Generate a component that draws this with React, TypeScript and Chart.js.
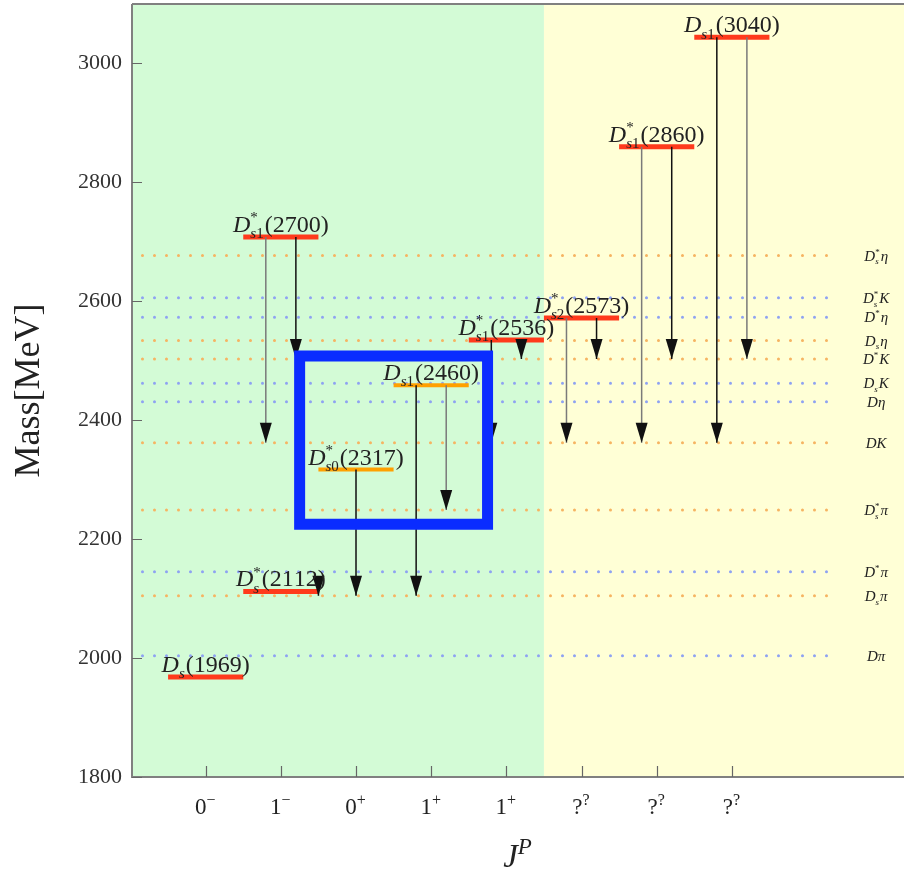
import React, { useEffect, useRef } from 'react';
import { Chart, registerables } from 'chart.js';

Chart.register(...registerables);

// ---------- data ----------
const categoryX = [1, 2, 3, 4, 5, 6, 7, 8];
const jpLabels = ['0^{−}', '1^{−}', '0^{+}', '1^{+}', '1^{+}', '?^{?}', '?^{?}', '?^{?}'];
const yTicks = [1800, 2000, 2200, 2400, 2600, 2800, 3000];

const levelNames = [
  'D_{s}(1969)', 'D_{s}^{*}(2112)', 'D_{s0}^{*}(2317)', 'D_{s1}(2460)', 'D_{s1}^{*}(2536)',
  'D_{s2}^{*}(2573)', 'D_{s1}^{*}(2700)', 'D_{s1}^{*}(2860)', 'D_{s1}(3040)',
];
const levelSlot = [1, 2, 3, 4, 5, 6, 2, 7, 8];
const levelMass = [1968, 2112, 2317, 2459, 2535, 2572, 2708, 2860, 3044];
const levelHighlighted = [false, false, true, true, false, false, false, false, false];

const thresholdNames = [
  'D_{s}^{*}η', 'D_{s}^{*}K', 'D^{*}η', 'D_{s}η', 'D^{*}K', 'D_{s}K',
  'Dη', 'DK', 'D_{s}^{*}π', 'D^{*}π', 'D_{s}π', 'Dπ',
];
const thresholdMass = [2677, 2606, 2573, 2534, 2503, 2462, 2431, 2362, 2249, 2145, 2105, 2004];
const thresholdGroup = [0, 1, 1, 0, 0, 1, 1, 0, 0, 1, 0, 1];

const arrowX = [1.8, 2.2, 2.5, 3.0, 3.8, 4.2, 4.8, 5.2, 5.8, 6.2, 6.8, 7.2, 7.8, 8.2];
const arrowFrom = [2708, 2708, 2112, 2317, 2459, 2459, 2535, 2535, 2572, 2572, 2860, 2860, 3044, 3044];
const arrowTo = [2362, 2503, 2105, 2105, 2105, 2249, 2362, 2503, 2362, 2503, 2362, 2503, 2362, 2503];
const arrowWeak = [true, false, false, false, false, true, false, false, true, false, true, false, false, true];

const boxX = [2.25, 4.75];
const boxMass = [2225, 2508];

const regionSplit = 5.5;
const thresholdStart = 0;
const thresholdEnd = 9.4;
const thresholdLabelX = 9.92;

// ---------- styles ----------
const SERIF = '"Liberation Serif", "Times New Roman", serif';
const GREEN = '#d3fbd6';
const YELLOW = '#ffffd6';
const RED = '#ff3a1c';
const ORANGE = '#ffa000';
const DOT_COLORS = ['#f6b462', '#8ea2f2'];
const FRAME = '#808080';
const TEXT = '#222222';

type Run = { text: string; kind: 'base' | 'sub' | 'sup' };

function parseRich(s: string): Run[] {
  const runs: Run[] = [];
  let i = 0;
  while (i < s.length) {
    const c = s[i];
    if ((c === '_' || c === '^') && s[i + 1] === '{') {
      const end = s.indexOf('}', i);
      runs.push({ text: s.slice(i + 2, end), kind: c === '_' ? 'sub' : 'sup' });
      i = end + 1;
    } else {
      runs.push({ text: c, kind: 'base' });
      i++;
    }
  }
  return runs;
}

const isItalic = (ch: string) => /[A-Za-zα-ωΑ-Ω]/.test(ch);

function drawRich(
  ctx: CanvasRenderingContext2D, s: string, x: number, y: number, size: number,
  align: 'center' | 'left', scriptRatio = 0.62,
) {
  const runs = parseRich(s);
  const small = Math.round(size * scriptRatio);
  const items: { text: string; font: string; x: number; y: number }[] = [];
  let cx = 0;
  let i = 0;
  while (i < runs.length) {
    const r = runs[i];
    if (r.kind === 'base') {
      const font = `${isItalic(r.text) ? 'italic ' : ''}${size}px ${SERIF}`;
      ctx.font = font;
      const w = ctx.measureText(r.text).width;
      items.push({ text: r.text, font, x: cx, y: 0 });
      cx += w;
      i++;
    } else {
      let maxW = 0;
      while (i < runs.length && runs[i].kind !== 'base') {
        const rr = runs[i];
        let sx = cx;
        for (const ch of rr.text) {
          const font = `${isItalic(ch) ? 'italic ' : ''}${small}px ${SERIF}`;
          ctx.font = font;
          const w = ctx.measureText(ch).width;
          items.push({ text: ch, font, x: sx, y: rr.kind === 'sub' ? size * 0.26 : -size * 0.4 });
          sx += w;
        }
        maxW = Math.max(maxW, sx - cx);
        i++;
      }
      cx += maxW + 1;
    }
  }
  const x0 = align === 'center' ? x - cx / 2 : x;
  ctx.textAlign = 'left';
  ctx.textBaseline = 'alphabetic';
  for (const it of items) {
    ctx.font = it.font;
    ctx.fillText(it.text, x0 + it.x, y + it.y);
  }
}

const decorPlugin = {
  id: 'decor',
  beforeDraw(chart: any) {
    const { ctx, chartArea: a, scales } = chart;
    const xb = scales.x.getPixelForValue(regionSplit);
    ctx.save();
    ctx.fillStyle = GREEN;
    ctx.fillRect(a.left, a.top, xb - a.left, a.bottom - a.top);
    ctx.fillStyle = YELLOW;
    ctx.fillRect(xb, a.top, a.right - xb, a.bottom - a.top);
    ctx.restore();
  },
  afterDatasetDraw(chart: any, args: any) {
    const ds = chart.data.datasets[args.index];
    if (!ds.isArrow) return;
    const tip = args.meta.data[1];
    if (!tip) return;
    const ctx = chart.ctx;
    ctx.save();
    ctx.fillStyle = '#111';
    ctx.beginPath();
    ctx.moveTo(tip.x, tip.y);
    ctx.lineTo(tip.x - 6, tip.y - 20);
    ctx.lineTo(tip.x + 6, tip.y - 20);
    ctx.closePath();
    ctx.fill();
    ctx.restore();
  },
  afterDatasetsDraw(chart: any) {
    const { ctx, scales } = chart;
    ctx.save();
    ctx.fillStyle = TEXT;
    levelNames.forEach((name, i) => {
      const px = scales.x.getPixelForValue(levelSlot[i]);
      const py = scales.y.getPixelForValue(levelMass[i]);
      drawRich(ctx, name, px, py - 5, 24, 'center', 0.62);
    });
    thresholdNames.forEach((name, i) => {
      const px = scales.x.getPixelForValue(thresholdLabelX);
      const py = scales.y.getPixelForValue(thresholdMass[i]);
      drawRich(ctx, name, px, py + 5, 15, 'center');
    });
    ctx.restore();
  },
  afterDraw(chart: any) {
    const { ctx, chartArea: a, scales } = chart;
    ctx.save();
    ctx.strokeStyle = FRAME;
    ctx.lineWidth = 2;
    ctx.beginPath();
    ctx.moveTo(a.left, a.top);
    ctx.lineTo(a.left, a.bottom);
    ctx.lineTo(a.right, a.bottom);
    ctx.moveTo(a.left, a.top);
    ctx.lineTo(a.right, a.top);
    ctx.stroke();
    ctx.lineWidth = 1.2;
    ctx.strokeStyle = '#666';
    ctx.beginPath();
    yTicks.forEach((t) => {
      const py = Math.round(scales.y.getPixelForValue(t)) + 0.5;
      ctx.moveTo(a.left, py);
      ctx.lineTo(a.left + 10, py);
    });
    categoryX.forEach((t) => {
      const px = Math.round(scales.x.getPixelForValue(t)) + 0.5;
      ctx.moveTo(px, a.bottom);
      ctx.lineTo(px, a.bottom - 11);
    });
    ctx.stroke();
    ctx.fillStyle = TEXT;
    categoryX.forEach((t, i) => {
      const px = scales.x.getPixelForValue(t);
      drawRich(ctx, jpLabels[i], px, a.bottom + 37, 23, 'center', 0.68);
    });
    drawRich(ctx, 'J^{P}', (a.left + a.right) / 2, a.bottom + 90, 33, 'center', 0.7);
    ctx.restore();
  },
};

export default function App() {
  const ref = useRef<HTMLCanvasElement | null>(null);

  useEffect(() => {
    if (!ref.current) return;
    const datasets: any[] = [];

    thresholdMass.forEach((m, i) => {
      datasets.push({
        data: [{ x: thresholdStart, y: m }, { x: thresholdEnd, y: m }],
        borderColor: DOT_COLORS[thresholdGroup[i]],
        borderWidth: 3,
        borderDash: [0, 12],
        borderCapStyle: 'round',
        pointRadius: 0,
        order: 5,
      });
    });

    levelMass.forEach((m, i) => {
      datasets.push({
        data: [{ x: levelSlot[i] - 0.5, y: m }, { x: levelSlot[i] + 0.5, y: m }],
        borderColor: levelHighlighted[i] ? ORANGE : RED,
        borderWidth: levelHighlighted[i] ? 4 : 5,
        borderCapStyle: 'butt',
        pointRadius: 0,
        order: 4,
      });
    });

    arrowX.forEach((ax, i) => {
      datasets.push({
        data: [{ x: ax, y: arrowFrom[i] }, { x: ax, y: arrowTo[i] }],
        borderColor: arrowWeak[i] ? '#7a7a7a' : '#111111',
        borderWidth: 1.5,
        pointRadius: 0,
        isArrow: true,
        order: 3,
      });
    });

    datasets.push({
      data: [
        { x: boxX[0], y: boxMass[0] },
        { x: boxX[1], y: boxMass[0] },
        { x: boxX[1], y: boxMass[1] },
        { x: boxX[0], y: boxMass[1] },
        { x: boxX[0], y: boxMass[0] },
      ],
      borderColor: '#0a2cff',
      borderWidth: 11,
      borderJoinStyle: 'miter',
      borderCapStyle: 'square',
      pointRadius: 0,
      order: 1,
    });

    const chart = new Chart(ref.current, {
      type: 'line',
      data: { datasets },
      options: {
        animation: false,
        responsive: false,
        devicePixelRatio: 1,
        events: [],
        layout: { padding: { top: 4, right: 0, left: 0, bottom: 0 } },
        plugins: { legend: { display: false }, tooltip: { enabled: false } },
        elements: { line: { tension: 0 } },
        scales: {
          x: {
            type: 'linear',
            min: 0.02,
            max: 10.29,
            grid: { display: false, drawTicks: false },
            border: { display: false },
            ticks: { display: false },
            afterBuildTicks: (s: any) => {
              s.ticks = categoryX.map((v) => ({ value: v }));
            },
            afterFit: (s: any) => {
              s.height = 95;
              s.paddingLeft = 0;
              s.paddingRight = 0;
            },
          },
          y: {
            type: 'linear',
            min: 1800,
            max: 3100,
            grid: { display: false, drawTicks: false },
            border: { display: false },
            ticks: {
              padding: 10,
              color: '#333',
              font: { family: SERIF, size: 22 },
              callback: (v: any) => String(v),
            },
            afterBuildTicks: (s: any) => {
              s.ticks = yTicks.map((v) => ({ value: v }));
            },
            afterFit: (s: any) => {
              s.width = 132;
              s.paddingTop = 0;
              s.paddingBottom = 0;
            },
            title: {
              display: true,
              text: 'Mass[MeV]',
              color: TEXT,
              font: { family: SERIF, size: 36 },
              padding: { top: 8, bottom: 0 },
            },
          },
        },
      },
      plugins: [decorPlugin],
    } as any);

    return () => chart.destroy();
  }, []);

  return (
    <div style={{ position: 'absolute', left: 0, top: 0, width: 904, height: 872 }}>
      <canvas ref={ref} width={904} height={872} style={{ width: 904, height: 872 }} />
    </div>
  );
}
